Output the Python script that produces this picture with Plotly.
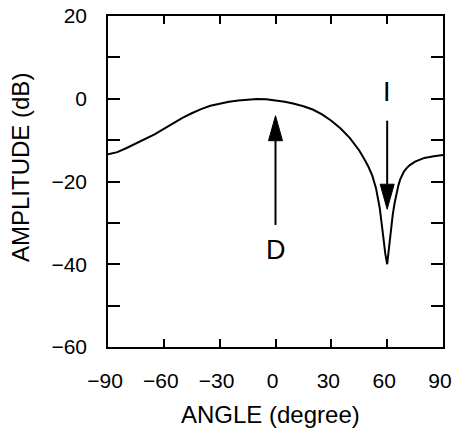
import plotly.graph_objects as go

# ---- data ----
angle = [-90, -85, -80, -75, -70, -65, -60, -55, -50, -45, -40, -35, -30, -25, -20,
         -15, -10, -5, 0, 5, 10, 15, 20, 25, 30, 35, 40, 45, 48, 50, 52, 54, 56, 57,
         58, 59, 60, 61, 62, 63, 64, 65, 66, 67, 68, 69, 70, 72, 75, 80, 85, 90]
amplitude = [-13.4, -12.9, -11.9, -10.8, -9.8, -8.6, -7.3, -5.9, -4.6, -3.5, -2.5, -1.7,
             -1.2, -0.7, -0.4, -0.15, -0.05, -0.1, -0.35, -0.7, -1.2, -1.8, -2.6, -3.8,
             -5.3, -7.2, -9.5, -12.5, -14.8, -16.5, -18.6, -21.6, -26.4, -29.6, -33.7,
             -37.5, -40.0, -36.0, -31.6, -28.0, -25.2, -22.9, -21.0, -19.5, -18.4,
             -17.6, -17.0, -16.1, -15.2, -14.3, -13.9, -13.6]

x_ticks = [-90, -60, -30, 0, 30, 60, 90]
x_tick_labels = ["\u221290", "\u221260", "\u221230", "0", "30", "60", "90"]
y_ticks = [-60, -50, -40, -30, -20, -10, 0, 10, 20]
y_tick_labels = ["\u221260", "", "\u221240", "", "\u221220", "", "0", "", "20"]

arrow_x = [0, 60]
arrow_tip = [-4.1, -26.7]
arrow_tail = [-30.5, -5.3]
arrow_label = ["D", "I"]
arrow_label_y = [-36.5, 1.6]

X_RANGE = [-90, 90]
Y_RANGE = [-60, 20]

# ---- layout geometry ----
W, H = 453, 432
ML, MR, MT, MB = 108, 10, 16, 85
pw = W - ML - MR
ph = H - MT - MB
deg_per_px = (X_RANGE[1] - X_RANGE[0]) / pw
db_per_px = (Y_RANGE[1] - Y_RANGE[0]) / ph

FONT = "Liberation Sans, Arial, sans-serif"

fig = go.Figure()
fig.add_trace(go.Scatter(x=angle, y=amplitude, mode="lines",
                         line=dict(color="black", width=2), showlegend=False,
                         hoverinfo="skip"))

shapes = []
annotations = []
head_len = 25 * db_per_px
head_half = 7 * deg_per_px
for ax, tip, tail, lab, ly in zip(arrow_x, arrow_tip, arrow_tail, arrow_label, arrow_label_y):
    d = 1 if tail < tip else -1  # +1: arrow points upward
    base = tip - d * head_len
    shapes.append(dict(type="line", xref="x", yref="y", x0=ax, x1=ax, y0=tail, y1=base,
                       line=dict(color="black", width=2)))
    path = (f"M{ax},{tip} L{ax - head_half},{base} L{ax + head_half},{base} Z")
    shapes.append(dict(type="path", xref="x", yref="y", path=path,
                       fillcolor="black", line=dict(color="black", width=1)))
    annotations.append(dict(x=ax, y=ly, xref="x", yref="y", text=lab, showarrow=False,
                            font=dict(family=FONT, size=27, color="black")))

annotations.append(dict(x=0.4836, y=-0.2054, xref="paper", yref="paper",
                        text="ANGLE (degree)", showarrow=False, yanchor="middle",
                        font=dict(family=FONT, size=24, color="black")))
annotations.append(dict(x=-0.2597, y=0.5408, xref="paper", yref="paper",
                        text="AMPLITUDE (dB)", showarrow=False, textangle=-90,
                        xanchor="center", yanchor="middle",
                        font=dict(family=FONT, size=24, color="black")))

fig.update_layout(
    width=W, height=H,
    margin=dict(l=ML, r=MR, t=MT, b=MB, autoexpand=False),
    paper_bgcolor="white", plot_bgcolor="white",
    shapes=shapes, annotations=annotations,
    font=dict(family=FONT, color="black"),
    xaxis=dict(range=X_RANGE, tickvals=x_ticks, ticktext=x_tick_labels,
               ticks="inside", ticklen=8, tickwidth=1.5, tickcolor="black",
               showline=True, linecolor="black", linewidth=1.5, mirror="ticks",
               showgrid=False, zeroline=False, ticklabelstandoff=14, automargin=False,
               ticklabeloverflow="allow", ticklabelshift=-3,
               tickfont=dict(family=FONT, size=21, color="black")),
    yaxis=dict(range=Y_RANGE, tickvals=y_ticks, ticktext=y_tick_labels,
               ticks="inside", ticklen=12, tickwidth=1.5, tickcolor="black",
               showline=True, linecolor="black", linewidth=1.5, mirror="ticks",
               showgrid=False, zeroline=False, ticklabelstandoff=15, automargin=False,
               ticklabeloverflow="allow",
               tickfont=dict(family=FONT, size=21, color="black")),
)

fig.write_html(
    "out.html",
    config={"displayModeBar": False},
    post_script="document.body.style.margin='0';document.body.style.overflow='hidden';",
)
